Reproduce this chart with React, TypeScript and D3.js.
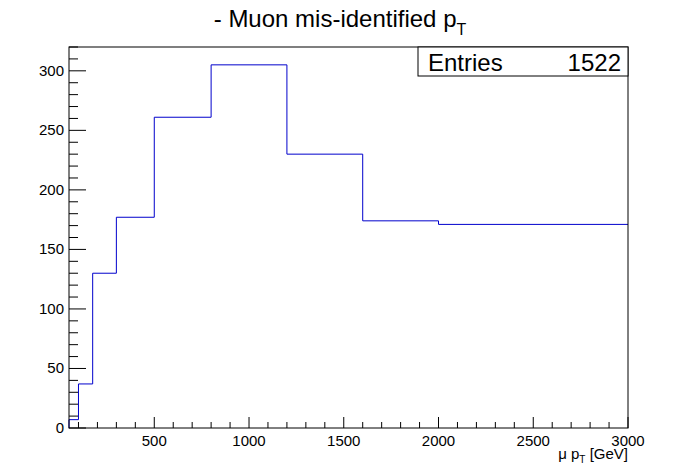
import * as d3 from 'd3';

const binEdges = [50, 100, 175, 300, 500, 800, 1200, 1600, 2000, 3000];
const binCounts = [7, 37, 130, 177, 261, 305, 230, 174, 171];
const xTickValues = [500, 1000, 1500, 2000, 2500, 3000];
const yTickValues = [0, 50, 100, 150, 200, 250, 300];
const entries = 1522;

const W = 698, H = 476;
const M = { top: 47, right: 70, bottom: 48, left: 69 };

export default function App() {
    const x = d3.scaleLinear().domain([50, 3000]).range([M.left, W - M.right]);
    const y = d3.scaleLinear().domain([0, 320]).range([H - M.bottom, M.top]);
    const pts: [number, number][] = [];
    binCounts.forEach((c, i) => {
        pts.push([binEdges[i], c]);
        pts.push([binEdges[i + 1], c]);
    });
    const line = d3.line<[number, number]>().x((d) => x(d[0])).y((d) => y(d[1]));
    const path = `M${x(50)},${y(0)}L` + line(pts)!.slice(1);
    const xMinor = d3.range(100, 3001, 100);
    const yMinor = d3.range(0, 321, 10);
    const font = 'Liberation Sans, Arial, sans-serif';
    return (
        <svg width={W} height={H} style={{ position: 'absolute', left: 0, top: 0 }} fontFamily={font}>
            <rect width={W} height={H} fill="#fff" />
            <path d={path} fill="none" stroke="#0000cc" strokeWidth={1} />
            <rect x={M.left} y={M.top} width={W - M.left - M.right} height={H - M.top - M.bottom} fill="none" stroke="#000" />
            {xMinor.map((v) => (
                <line key={'xm' + v} x1={x(v)} x2={x(v)} y1={y(0)} y2={y(0) - (v % 500 === 0 ? 11 : 6)} stroke="#000" />
            ))}
            {yMinor.map((v) => (
                <line key={'ym' + v} x1={x(50)} x2={x(50) + (v % 50 === 0 ? 17 : 9)} y1={y(v)} y2={y(v)} stroke="#000" />
            ))}
            {xTickValues.map((v) => (
                <text key={'xt' + v} x={x(v)} y={y(0) + 18} fontSize={15} textAnchor="middle">{v}</text>
            ))}
            {yTickValues.map((v) => (
                <text key={'yt' + v} x={M.left - 5} y={y(v) + 5} fontSize={15} textAnchor="end">{v}</text>
            ))}
            <text x={W - M.right} y={459} fontSize={15} textAnchor="end">
                μ p<tspan fontSize={10} dy={4}>T</tspan><tspan dy={-4}>  [GeV]</tspan>
            </text>
            <text x={340} y={27} fontSize={24} textAnchor="middle">
                - Muon mis-identified p<tspan fontSize={16} dy={8}>T</tspan>
            </text>
            <rect x={418} y={M.top} width={W - M.right - 418} height={29} fill="#fff" stroke="#000" />
            <text x={428} y={71} fontSize={24}>Entries</text>
            <text x={621} y={71} fontSize={24} textAnchor="end">{entries}</text>
        </svg>
    );
}
